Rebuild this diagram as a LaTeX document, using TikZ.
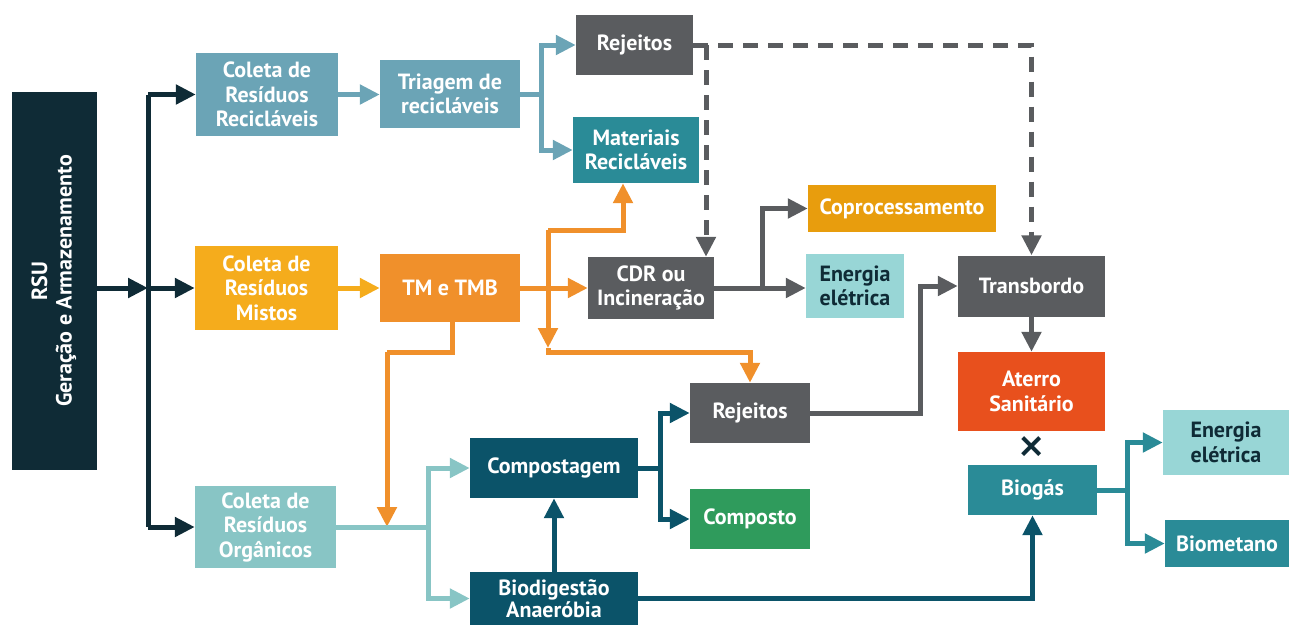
\documentclass[tikz,border=0pt]{standalone}
\usepackage{fontspec}
\setmainfont{PT Sans}
\usepackage{tikz}
\usepackage{xcolor}
\usetikzlibrary{arrows.meta}

\definecolor{rsunavy}{HTML}{0F2B36}
\definecolor{lblue}{HTML}{6BA4B6}
\definecolor{slate}{HTML}{5A5C5F}
\definecolor{tealbox}{HTML}{2A8B97}
\definecolor{mixyel}{HTML}{F5AC1C}
\definecolor{tmorange}{HTML}{F0902B}
\definecolor{coprorg}{HTML}{E89D0D}
\definecolor{lcyan}{HTML}{98D6D6}
\definecolor{aterrored}{HTML}{E8501D}
\definecolor{deepteal}{HTML}{0B5369}
\definecolor{compgreen}{HTML}{2F9B5C}
\definecolor{orgteal}{HTML}{88C5C5}

\begin{document}
\begin{tikzpicture}[x=1pt, y=-1pt,
    every node/.style={rectangle, align=center, text=white, inner sep=0pt,
      font=\fontsize{22}{24.5}\selectfont\bfseries},
    flow/.style={line width=5pt, -{Triangle[length=20pt,width=19pt]}},
    plain/.style={line width=5pt},
    dashline/.style={dash pattern=on 15pt off 10pt},
    darktext/.style={text=rsunavy}]
      \useasboundingbox (0, 0) rectangle (1289, 625);
      \node[fill=rsunavy, minimum width=85pt, minimum height=378pt] at (54.5, 281) (rsu)
        {\rotatebox{90}{\begin{tabular}{@{}c@{}}RSU\\Geração e Armazenamento\end{tabular}}};
      \node[fill=lblue, minimum width=142pt, minimum height=83pt] at (267, 94.5) (colrec) {Coleta de\\Resíduos\\Recicláveis};
      \node[fill=mixyel, minimum width=143pt, minimum height=84pt] at (266.5, 288) (colmix) {Coleta de\\Resíduos\\Mistos};
      \node[fill=orgteal, minimum width=141pt, minimum height=82pt] at (265.5, 527) (colorg) {Coleta de\\Resíduos\\Orgânicos};
      \node[fill=lblue, minimum width=140pt, minimum height=68pt] at (450, 94) (triagem) {Triagem de\\recicláveis};
      \node[fill=tmorange, minimum width=140pt, minimum height=68pt] at (450, 288) (tmtmb) {TM e TMB};
      \node[fill=slate, minimum width=117pt, minimum height=60pt] at (634.5, 45) (rej1) {Rejeitos};
      \node[fill=tealbox, minimum width=126pt, minimum height=66pt] at (636, 150) (matrec) {Materiais\\Recicláveis};
      \node[fill=slate, minimum width=126pt, minimum height=62pt] at (651, 288) (cdr) {CDR ou\\Incineração};
      \node[fill=coprorg, minimum width=188pt, minimum height=47pt] at (902, 208.5) (copro) {Coprocessamento};
      \node[fill=lcyan, darktext, minimum width=98pt, minimum height=64pt] at (855, 286) (energ1) {Energia\\elétrica};
      \node[fill=slate, minimum width=147pt, minimum height=61pt] at (1031.5, 286) (transb) {Transbordo};
      \node[fill=aterrored, minimum width=147pt, minimum height=79pt] at (1031.5, 391.5) (aterro) {Aterro\\Sanitário};
      \node[text=rsunavy, font=\fontsize{56}{56}\selectfont] at (1032, 451) (cross) {×};
      \node[fill=tealbox, minimum width=129pt, minimum height=50pt] at (1032.5, 490) (biogas) {Biogás};
      \node[fill=lcyan, darktext, minimum width=126pt, minimum height=65pt] at (1226, 442.5) (energ2) {Energia\\elétrica};
      \node[fill=tealbox, minimum width=124pt, minimum height=47pt] at (1227, 543.5) (biomet) {Biometano};
      \node[fill=slate, minimum width=120pt, minimum height=60pt] at (750, 413) (rej2) {Rejeitos};
      \node[fill=compgreen, minimum width=120pt, minimum height=60pt] at (750, 519) (compost) {Composto};
      \node[fill=deepteal, minimum width=168pt, minimum height=60pt] at (554, 468) (compostagem) {Compostagem};
      \node[fill=deepteal, minimum width=168pt, minimum height=53pt,
        font=\fontsize{22}{22.5}\selectfont\bfseries] at (554, 598.5) (biodig) {Biodigestão\\Anaeróbia};

      \coordinate (trunk) at (148, 0);
      \coordinate (s1) at (541, 94);
      \coordinate (o1) at (548, 230);
      \coordinate (o2) at (548, 348);
      \coordinate (o3) at (548, 352);
      \coordinate (o4) at (387, 352);
      \coordinate (o5) at (387, 527);
      \coordinate (s2) at (428, 527);
      \coordinate (s3) at (660, 468);
      \coordinate (s4) at (920, 286);
      \coordinate (s5) at (762, 288);
      \coordinate (s6) at (1127, 490);
      \coordinate (d1) at (706, 45);

      \draw[flow, rsunavy] (rsu.east |- colmix) -- (trunk |- colmix);
      \draw[plain, rsunavy] (trunk |- colrec) -- (trunk |- colorg);
      \draw[flow, rsunavy] (trunk |- colrec) -- (colrec);
      \draw[flow, rsunavy] (trunk |- colmix) -- (colmix);
      \draw[flow, rsunavy] (trunk |- colorg) -- (colorg);

      \draw[flow, lblue] (colrec) -- (colrec.east -| triagem.west);
      \draw[plain, lblue] (triagem.east) -- (s1);
      \draw[flow, lblue] (s1) |- (rej1);
      \draw[flow, lblue] (s1) |- (matrec);

      \draw[flow, mixyel] (colmix) -- (tmtmb);
      \draw[flow, tmorange] (tmtmb) -- (cdr);
      \draw[flow, tmorange] (o1) -| ([xshift=-13pt]matrec.south);
      \draw[flow, tmorange] (o1) -- (o2);
      \draw[flow, tmorange] (o2) -- (o3) -| (rej2);
      \draw[plain, tmorange] ([xshift=2pt]tmtmb.south) |- (o4);
      \draw[flow, tmorange] (o4) -- (o5);

      \draw[flow, slate] (cdr.east) -- (s5) |- (copro);
      \draw[flow, slate] (s5) -- (s5 -| energ1.west);
      \draw[flow, slate, dashline] (rej1) -| (transb);
      \draw[flow, slate, dashline] (d1) -- (d1 |- cdr.north);

      % organic branch
      \draw[plain, orgteal] (colorg) -- (s2);
      \draw[flow, orgteal] (s2) |- (compostagem);
      \draw[flow, orgteal] (s2) |- (biodig);
      \draw[flow, deepteal] (biodig) -- (compostagem);
      \draw[plain, deepteal] (compostagem) -- (s3);
      \draw[flow, deepteal] (s3) |- (rej2);
      \draw[flow, deepteal] (s3) |- (compost);
      \draw[flow, slate] (rej2) -| (s4) -- (transb);
      \draw[flow, slate] (transb) -- (aterro);
      \draw[flow, deepteal] (biodig) -| (biogas);
      \draw[plain, tealbox] (biogas) -- (s6);
      \draw[flow, tealbox] (s6) |- (energ2);
      \draw[flow, tealbox] (s6) |- (biomet);
  \end{tikzpicture}
\end{document}
